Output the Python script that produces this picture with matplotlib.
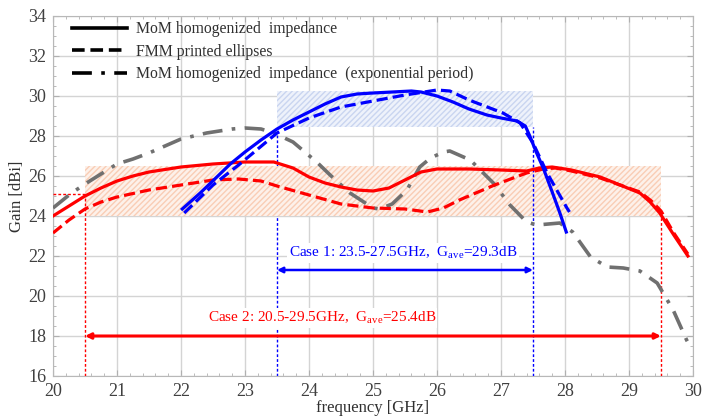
import matplotlib
matplotlib.use("Agg")
import matplotlib.pyplot as plt
from matplotlib.patches import Rectangle
from matplotlib.lines import Line2D
from matplotlib.ticker import MultipleLocator

plt.rcParams['font.family'] = ['Liberation Serif', 'DejaVu Serif']

# ---- data ----
red_solid_f = [20.0, 20.25, 20.5, 20.75, 21.0, 21.25, 21.5, 22.0, 22.5, 23.0, 23.45, 23.75, 24.0,
               24.25, 24.5, 24.75, 25.0, 25.25, 25.5, 25.75, 26.0, 26.5, 27.0, 27.4, 27.6, 27.8,
               28.1, 28.55, 29.17, 29.33, 29.48, 29.7, 29.92]
red_solid_g = [24.0, 24.5, 25.0, 25.4, 25.75, 26.0, 26.2, 26.45, 26.6, 26.7, 26.7, 26.4, 25.95,
               25.65, 25.45, 25.3, 25.25, 25.4, 25.8, 26.2, 26.35, 26.35, 26.3, 26.25, 26.4, 26.45,
               26.3, 25.95, 25.15, 24.7, 24.15, 23.05, 22.0]

red_dash_f = [20.0, 20.25, 20.5, 20.75, 21.0, 21.5, 22.0, 22.5, 22.9, 23.25, 23.5, 24.0, 24.5,
              25.0, 25.5, 25.85, 26.1, 26.35, 26.9, 27.4, 27.66, 27.85, 28.1, 28.55, 29.17, 29.35,
              29.5, 29.7, 29.92]
red_dash_g = [23.15, 23.8, 24.35, 24.7, 24.95, 25.3, 25.55, 25.8, 25.85, 25.75, 25.5, 25.05, 24.6,
              24.4, 24.35, 24.2, 24.4, 24.8, 25.55, 26.15, 26.35, 26.4, 26.25, 25.9, 25.2, 24.75,
              24.25, 23.15, 22.1]

blue_solid_f = [22.02, 22.3, 22.56, 22.77, 23.0, 23.25, 23.5, 23.75, 24.0, 24.25, 24.5, 24.75,
                25.0, 25.3, 25.6, 25.75, 26.0, 26.25, 26.5, 26.78, 27.0, 27.25, 27.38, 27.45,
                27.55, 27.66, 27.8, 27.92, 28.02]
blue_solid_g = [24.35, 25.15, 25.95, 26.6, 27.2, 27.8, 28.35, 28.8, 29.2, 29.6, 29.95, 30.1,
                30.15, 30.2, 30.25, 30.2, 30.0, 29.7, 29.35, 29.05, 28.9, 28.75, 28.5, 28.0,
                27.2, 26.4, 25.2, 24.15, 23.2]

blue_dash_f = [22.05, 22.5, 22.92, 23.5, 24.0, 24.5, 25.0, 25.5, 26.0, 26.2, 26.5, 27.03, 27.3,
               27.5, 27.72, 28.03, 28.07]
blue_dash_g = [24.15, 25.55, 26.6, 28.15, 28.9, 29.45, 29.75, 30.05, 30.3, 30.25, 29.8, 29.15,
               28.65, 27.65, 26.15, 24.4, 24.2]

gray_f = [20.0, 20.27, 20.5, 20.8, 21.0, 21.25, 21.5, 21.75, 22.0, 22.4, 22.8, 23.0, 23.25, 23.45,
          23.75, 24.12, 24.33, 24.64, 25.0, 25.1, 25.3, 25.53, 25.73, 25.9, 26.1, 26.2, 26.52,
          26.88, 27.14, 27.4, 27.56, 27.92, 28.12, 28.4, 28.66, 28.91, 29.17, 29.44, 29.69,
          29.9, 29.97]
gray_g = [24.4, 25.1, 25.6, 26.2, 26.6, 26.85, 27.15, 27.5, 27.85, 28.15, 28.35, 28.4, 28.35, 28.15,
          27.7, 26.7, 26.05, 25.15, 24.4, 24.35, 24.6, 25.3, 26.45, 26.9, 27.2, 27.25, 26.8,
          25.65, 24.55, 23.7, 23.55, 23.65, 23.2, 21.95, 21.45, 21.4, 21.25, 20.65, 19.3,
          17.8, 17.4]

legend_labels = ["MoM homogenized  impedance", "FMM printed ellipses",
                 "MoM homogenized  impedance  (exponential period)"]

case1_band = (23.5, 27.5)
case1_gain = (28.45, 30.25)
case2_band = (20.5, 29.5)
case2_gain = (24.0, 26.5)
case1_text = "Case 1: 23.5-27.5GHz,  G$_{\\mathregular{ave}}$=29.3dB"
case2_text = "Case 2: 20.5-29.5GHz,  G$_{\\mathregular{ave}}$=25.4dB"

# ---- figure ----
fig = plt.figure(figsize=(7.27, 4.17), dpi=100)
ax = fig.add_axes([53/727, 1-376/417, 640/727, 360/417])
ax.set_xlim(20, 30)
ax.set_ylim(16, 34)

RED = '#ff0000'
BLUE = '#0000ff'
GRAY = '#707070'

ax.xaxis.set_major_locator(MultipleLocator(1))
ax.xaxis.set_minor_locator(MultipleLocator(0.2))
ax.yaxis.set_major_locator(MultipleLocator(2))
ax.yaxis.set_minor_locator(MultipleLocator(0.5))
ax.grid(True, which='major', color='#d4d4d4', lw=1.0, zorder=0)
ax.set_axisbelow(True)
ax.tick_params(which='both', direction='in', top=True, right=True, colors='#b0b0b0',
               labelcolor='#404040', labelsize=13)
ax.tick_params(which='major', length=4, pad=5)
ax.tick_params(which='minor', length=2.5)
for s in ax.spines.values():
    s.set_color('#b8b8b8')
ax.set_xlabel("frequency [GHz]", fontsize=12, color='#303030', labelpad=0)
ax.set_ylabel("Gain [dBi]", fontsize=12, color='#303030', labelpad=2)

# guide lines
lw_g = 1.0
ax.plot([case1_band[0]]*2, [16, 28.25], color=BLUE, lw=lw_g, ls=(0, (2, 1.5)), zorder=1)
ax.plot([case1_band[1]]*2, [16, case1_gain[0]], color=BLUE, lw=lw_g, ls=(0, (2, 1.5)), zorder=3)
ax.plot([case2_band[0]]*2, [16, 25.1], color=RED, lw=lw_g, ls=(0, (2, 1.5)), zorder=3)
ax.plot([20, case2_band[0]], [25.1, 25.1], color=RED, lw=lw_g, ls=(0, (2, 1.5)), zorder=3)
ax.plot([case2_band[1]]*2, [16, 24.1], color=RED, lw=lw_g, ls=(0, (2, 1.5)), zorder=3)

# shaded bands
ax.add_patch(Rectangle((case2_band[0], case2_gain[0]), case2_band[1]-case2_band[0],
                       case2_gain[1]-case2_gain[0], facecolor='#fdf1ea', edgecolor='#f9cdb5',
                       hatch='//////', lw=0, zorder=2))
ax.add_patch(Rectangle((case1_band[0], case1_gain[0]), case1_band[1]-case1_band[0],
                       case1_gain[1]-case1_gain[0], facecolor='#eef2fb', edgecolor='#c9d5f0',
                       hatch='//////', lw=0, zorder=2))

# curves
lw = 2.3
ax.plot(gray_f, gray_g, color=GRAY, lw=2.6, ls=(0, (5.5, 2.6, 1, 2.6)), zorder=4)
ax.plot(red_solid_f, red_solid_g, color=RED, lw=lw, zorder=5)
ax.plot(red_dash_f, red_dash_g, color=RED, lw=lw, ls=(0, (3.5, 1.6)), zorder=5)
ax.plot(blue_solid_f, blue_solid_g, color=BLUE, lw=lw, zorder=6)
ax.plot(blue_dash_f, blue_dash_g, color=BLUE, lw=lw, ls=(0, (3.5, 1.6)), zorder=6)

# arrows and texts
ax.annotate('', xy=(case1_band[0], 21.3), xytext=(case1_band[1], 21.3),
            arrowprops=dict(arrowstyle='<|-|>', color=BLUE, lw=1.8,
                            mutation_scale=8, shrinkA=0, shrinkB=0), zorder=7)
ax.annotate('', xy=(case2_band[0], 18.0), xytext=(case2_band[1], 18.0),
            arrowprops=dict(arrowstyle='<|-|>', color=RED, lw=2.2,
                            mutation_scale=8, shrinkA=0, shrinkB=0), zorder=7)
ax.text(25.47, 22.15, case1_text, color=BLUE, fontsize=11, ha='center', va='center',
        bbox=dict(facecolor='white', edgecolor='none', pad=1), zorder=8)
ax.text(24.2, 18.9, case2_text, color=RED, fontsize=11, ha='center', va='center',
        bbox=dict(facecolor='white', edgecolor='none', pad=1), zorder=8)

handles = [Line2D([], [], color='black', lw=2.6),
           Line2D([], [], color='black', lw=2.6, ls=(0, (3.5, 1.6))),
           Line2D([], [], color='black', lw=2.6, ls=(0, (5.5, 2.6, 1, 2.6)))]
leg = ax.legend(handles, legend_labels, loc='upper left', bbox_to_anchor=(0.015, 1.012),
                frameon=False, fontsize=11.3, handlelength=3.5, handletextpad=0.55,
                labelspacing=0.42, borderaxespad=0.2)
for t in leg.get_texts():
    t.set_color('#303030')

fig.savefig('out.png', dpi=100, facecolor='white')
